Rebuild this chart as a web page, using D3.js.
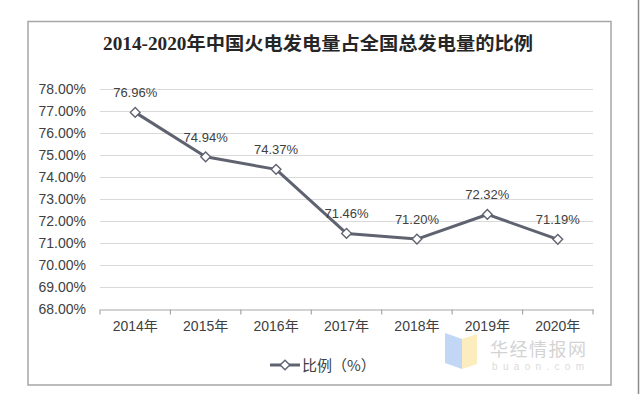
<!DOCTYPE html>
<html>
<head>
<meta charset="utf-8">
<script src="https://cdn.jsdelivr.net/npm/d3@7"></script>
<style>
  html, body { margin: 0; padding: 0; background: #fff; }
  svg { display: block; }
</style>
</head>
<body>
<svg id="chart" width="640" height="394"></svg>
<script>
const title = "2014-2020年中国火电发电量占全国总发电量的比例";
const years = ["2014年", "2015年", "2016年", "2017年", "2018年", "2019年", "2020年"];
const ratio = [76.96, 74.94, 74.37, 71.46, 71.20, 72.32, 71.19];
const yTicks = [68, 69, 70, 71, 72, 73, 74, 75, 76, 77, 78];
const seriesName = "比例（%）";

const svg = d3.select("#chart");
const lineColor = "#5f6370";
const textColor = "#404040";
const latin = "'Liberation Sans', Arial, 'Noto Sans CJK SC', sans-serif";

// outer frame
svg.append("rect").attr("x", 28).attr("y", 21.5).attr("width", 583).attr("height", 363.5)
  .attr("fill", "#fff").attr("stroke", "#a6a6a6").attr("stroke-width", 1.5);
svg.append("line").attr("x1", 638.5).attr("x2", 638.5).attr("y1", 0).attr("y2", 394)
  .attr("stroke", "#8a8a8a").attr("stroke-width", 1.5);

// title
svg.append("text").attr("x", 318).attr("y", 50).attr("text-anchor", "middle")
  .attr("font-family", "'Liberation Serif', 'Noto Sans CJK SC', serif")
  .attr("font-weight", "bold").attr("font-size", 18).attr("fill", "#262626")
  .attr("textLength", 430).attr("lengthAdjust", "spacingAndGlyphs")
  .text(title);

const x = d3.scaleBand().domain(years).range([100, 593]);
const y = d3.scaleLinear().domain([68, 78]).range([309.5, 89.5]);

// gridlines
svg.append("g").selectAll("line").data(yTicks.filter(d => d > 68)).join("line")
  .attr("x1", 100).attr("x2", 593)
  .attr("y1", d => y(d)).attr("y2", d => y(d))
  .attr("stroke", "#d9d9d9").attr("stroke-width", 1);

// y axis labels
const yAxis = svg.append("g").attr("transform", "translate(88,0)")
  .call(d3.axisLeft(y).tickValues(yTicks).tickSize(0).tickPadding(2)
    .tickFormat(d => d.toFixed(2) + "%"));
yAxis.select(".domain").remove();
yAxis.selectAll("text").attr("font-family", latin).attr("font-size", 14).attr("fill", textColor);

// x axis
const xAxis = svg.append("g").attr("transform", `translate(0,${y(68)})`)
  .call(d3.axisBottom(x).tickSize(0).tickPadding(12));
xAxis.select(".domain").attr("stroke", "#a6a6a6").attr("stroke-width", 1.2);
xAxis.selectAll("text").attr("font-family", latin).attr("font-size", 14).attr("fill", textColor);
const bounds = d3.range(years.length + 1).map(i => x.range()[0] + i * x.step());
xAxis.append("g").selectAll("line").data(bounds).join("line")
  .attr("x1", d => d).attr("x2", d => d).attr("y1", 0).attr("y2", 5)
  .attr("stroke", "#a6a6a6").attr("stroke-width", 1.2);

// line
const cx = (d, i) => x(years[i]) + x.bandwidth() / 2;
const line = d3.line().x((d, i) => cx(d, i)).y(d => y(d));
svg.append("path").datum(ratio).attr("d", line)
  .attr("fill", "none").attr("stroke", lineColor).attr("stroke-width", 3)
  .attr("stroke-linejoin", "round");

const diamond = d3.symbol().type(d3.symbolDiamond2).size(60);
svg.append("g").selectAll("path").data(ratio).join("path")
  .attr("d", diamond)
  .attr("transform", (d, i) => `translate(${cx(d, i)},${y(d)})`)
  .attr("fill", "#fff").attr("stroke", lineColor).attr("stroke-width", 1.4);

// data labels
svg.append("g").selectAll("text").data(ratio).join("text")
  .attr("x", (d, i) => cx(d, i)).attr("y", d => y(d) - 15)
  .attr("text-anchor", "middle")
  .attr("font-family", latin).attr("font-size", 13).attr("fill", textColor)
  .text(d => d.toFixed(2) + "%");

// legend
const lg = svg.append("g").attr("transform", "translate(270,365)");
lg.append("line").attr("x1", 0).attr("x2", 30).attr("y1", 0).attr("y2", 0)
  .attr("stroke", lineColor).attr("stroke-width", 3);
lg.append("path").attr("d", diamond).attr("transform", "translate(15,0)")
  .attr("fill", "#fff").attr("stroke", lineColor).attr("stroke-width", 1.4);
lg.append("text").attr("x", 32).attr("y", 5.5)
  .attr("font-family", "'Noto Sans CJK SC', sans-serif").attr("font-size", 15)
  .attr("fill", textColor).text(seriesName);

// watermark
const wm = svg.append("g").attr("opacity", 0.55);
wm.append("path").attr("d", "M445,333 L462,339 L462,369 L445,363 Z").attr("fill", "#8fb8ee");
wm.append("path").attr("d", "M462,339 L477,334 L477,364 L462,369 Z").attr("fill", "#f8e08a");
wm.append("text").attr("x", 490).attr("y", 356).attr("font-family", "'Noto Sans CJK SC', sans-serif")
  .attr("font-size", 18).attr("fill", "#b0b0b0").attr("textLength", 96).text("华经情报网");
wm.append("text").attr("x", 492).attr("y", 370).attr("font-family", latin)
  .attr("font-size", 10).attr("fill", "#c0c0c0").attr("textLength", 92)
  .attr("lengthAdjust", "spacing").text("buaon.com");
</script>
</body>
</html>
